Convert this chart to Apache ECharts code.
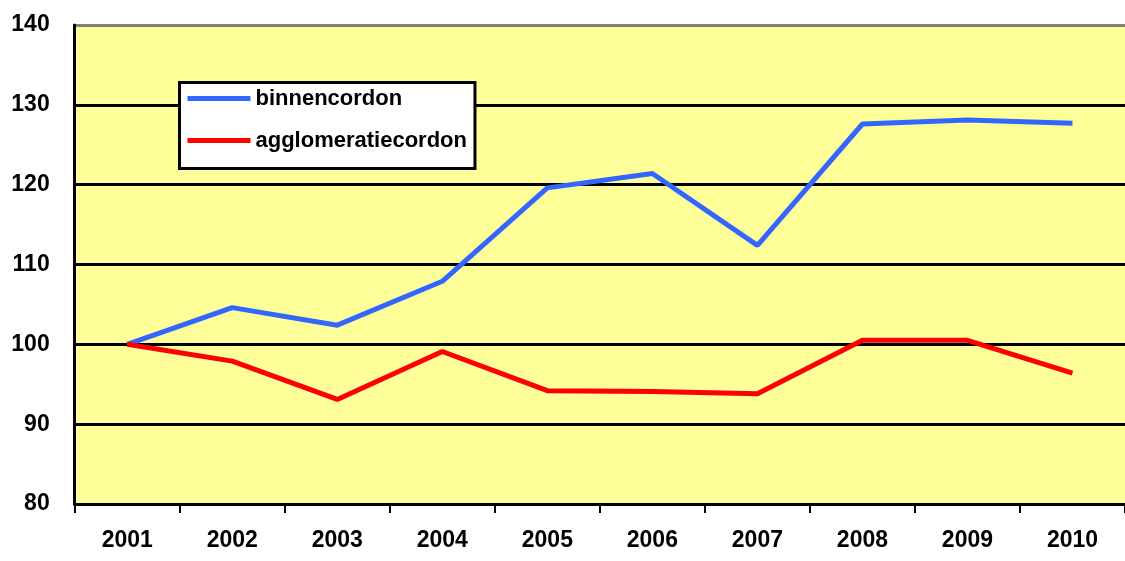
<!DOCTYPE html>
<html>
<head>
<meta charset="utf-8">
<script src="https://cdn.jsdelivr.net/npm/echarts@6/dist/echarts.min.js"></script>
<style>html,body{margin:0;padding:0;background:#fff}#c{width:1125px;height:561px}</style>
</head>
<body>
<div id="c"></div>
<script>
var categories = ['2001','2002','2003','2004','2005','2006','2007','2008','2009','2010'];
var binnencordon = [100, 104.6, 102.4, 107.9, 119.6, 121.4, 112.4, 127.6, 128.1, 127.7];
var agglomeratiecordon = [100, 97.9, 93.1, 99.1, 94.2, 94.1, 93.8, 100.5, 100.5, 96.4];
var yMin = 80, yMax = 140, yStep = 10;

var labelFont = "'Liberation Sans', Arial, sans-serif";
var chart = echarts.init(document.getElementById('c'), null, {renderer: 'canvas'});
chart.setOption({
  animation: false,
  backgroundColor: '#ffffff',
  grid: {
    left: 74.7, top: 25, right: -3, bottom: 57,
    show: true, backgroundColor: '#ffff99', borderWidth: 0
  },
  legend: {
    left: 179.5, top: 82.5,
    orient: 'vertical',
    padding: [5, 8, 17, 8],
    itemGap: 20,
    itemWidth: 63,
    itemHeight: 5,
    icon: 'rect',
    backgroundColor: '#ffffff',
    borderColor: '#000000',
    borderWidth: 3,
    borderRadius: 0,
    textStyle: {fontFamily: labelFont, fontSize: 22, fontWeight: 'bold', color: '#000'},
    data: [
      {name: 'binnencordon', icon: 'rect'},
      {name: 'agglomeratiecordon', icon: 'rect'}
    ]
  },
  xAxis: {
    type: 'category',
    data: categories,
    boundaryGap: true,
    axisLine: {show: true, lineStyle: {color: '#000', width: 3}},
    axisTick: {show: true, length: 9, lineStyle: {color: '#000', width: 2}},
    axisLabel: {fontFamily: labelFont, fontSize: 23, fontWeight: 'bold', color: '#000', margin: 25},
    splitLine: {show: false}
  },
  yAxis: {
    type: 'value',
    min: yMin, max: yMax, interval: yStep,
    axisLine: {show: true, lineStyle: {color: '#000', width: 3}},
    axisTick: {show: false},
    axisLabel: {fontFamily: labelFont, fontSize: 23, fontWeight: 'bold', color: '#000', margin: 25},
    splitLine: {show: true, showMinLine: true, showMaxLine: true,
      lineStyle: {color: ['#000','#000','#000','#000','#000','#000','#808080'], width: 3}}
  },
  series: [
    {
      name: 'binnencordon', type: 'line', data: binnencordon,
      symbol: 'none', smooth: false,
      lineStyle: {color: '#3366ff', width: 5},
      itemStyle: {color: '#3366ff'}
    },
    {
      name: 'agglomeratiecordon', type: 'line', data: agglomeratiecordon,
      symbol: 'none', smooth: false,
      lineStyle: {color: '#ff0000', width: 5},
      itemStyle: {color: '#ff0000'}
    }
  ]
});
</script>
</body>
</html>
